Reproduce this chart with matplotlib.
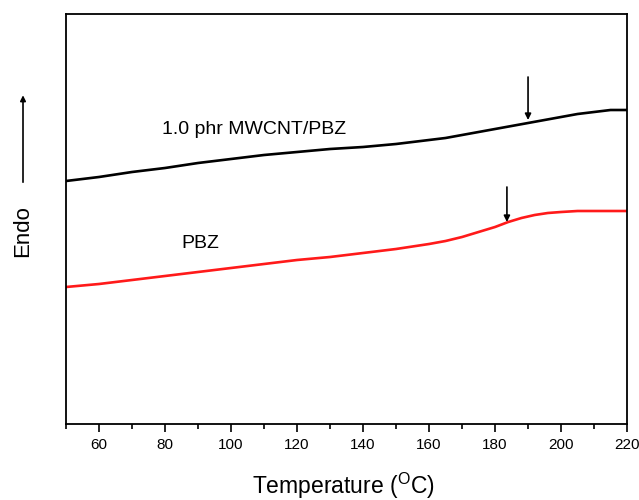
import numpy as np
import matplotlib as mpl
mpl.use("Agg")
import matplotlib.pyplot as plt

plt.rcParams['font.family'] = ['Liberation Sans', 'DejaVu Sans']
plt.rcParams['mathtext.fontset'] = 'custom'
plt.rcParams['mathtext.rm'] = 'Liberation Sans'

# temperature (C) and heat flow (arbitrary units)
tempBlack = [50, 60, 70, 80, 90, 100, 110, 120, 130, 140, 150, 160, 165, 170,
             175, 180, 185, 190, 195, 200, 205, 210, 215, 220]
flowBlack = [319, 323, 328, 332, 337, 341, 345, 348, 351, 353, 356, 360, 362, 365,
             368, 371, 374, 377, 380, 383, 386, 388, 390, 390]

tempRed = [50, 60, 70, 80, 90, 100, 110, 120, 130, 140, 150, 160, 165, 170,
           175, 180, 184, 188, 192, 196, 200, 205, 210, 220]
flowRed = [213, 216, 220, 224, 228, 232, 236, 240, 243, 247, 251, 256, 259, 263,
           268, 273, 278, 282, 285, 287, 288, 289, 289, 289]

arrowBlack = (190, 423, 380)
arrowRed = (183.6, 313, 278)

fig = plt.figure(figsize=(6.39, 5.0), dpi=100)
ax = fig.add_axes([0.1033, 0.152, 0.878, 0.820])

ax.plot(tempBlack, flowBlack, color='black', lw=1.9)
ax.plot(tempRed, flowRed, color='#ff1a1a', lw=1.9)

for (xa, y0, y1) in [arrowBlack, arrowRed]:
    ax.annotate('', xy=(xa, y1), xytext=(xa, y0),
                arrowprops=dict(arrowstyle='-|>', color='black', lw=1.2,
                                mutation_scale=9, shrinkA=0, shrinkB=0))

ax.text(79, 370, '1.0 phr MWCNT/PBZ', fontsize=14, va='center', ha='left')
ax.text(85, 257, 'PBZ', fontsize=14, va='center', ha='left')

ax.set_xlim(50, 220)
ax.set_ylim(76, 486)
ax.set_xticks(np.arange(60, 221, 20))
ax.set_xticks(np.arange(50, 221, 10), minor=True)
ax.set_yticks([])
ax.tick_params(axis='x', which='major', direction='out', length=6, width=1.2,
               labelsize=11, pad=4)
ax.tick_params(axis='x', which='minor', direction='out', length=3.5, width=1.2)
for s in ax.spines.values():
    s.set_linewidth(1.3)

fig.text(0.538, 0.012, r'Temperature ($^{\mathrm{O}}$C)', fontsize=16.5,
         ha='center', va='baseline')

# Endo label with upward arrow
fig.text(0.035, 0.538, 'Endo', rotation=90, fontsize=16, ha='center', va='center')
fig.add_artist(mpl.patches.FancyArrowPatch((0.036, 0.630), (0.036, 0.815),
               transform=fig.transFigure, arrowstyle='-|>', mutation_scale=8,
               color='black', lw=1.2))

fig.savefig('out.png', dpi=100)
